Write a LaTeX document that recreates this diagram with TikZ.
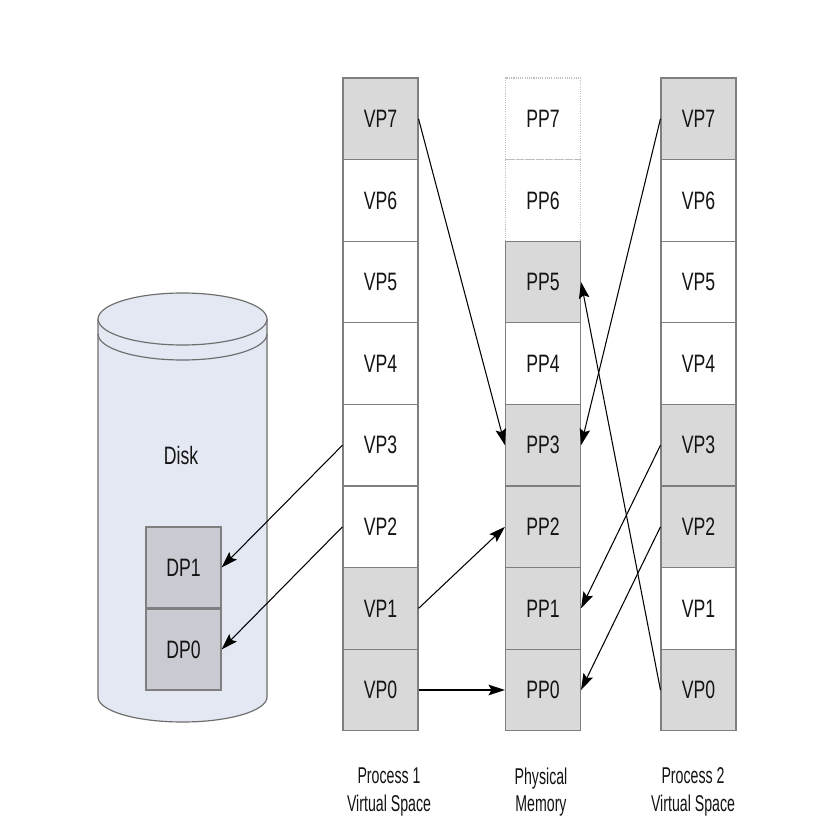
\documentclass[tikz,border=0pt]{standalone}
\usepackage{fontspec}
\setmainfont{Liberation Sans}[FakeStretch=0.7]
\newfontfamily\lblfont{Liberation Sans}[FakeStretch=0.62]
\usetikzlibrary{arrows.meta}
\definecolor{cellgray}{HTML}{D9D9D9}
\definecolor{edgegray}{HTML}{7F7F7F}
\definecolor{dotgray}{HTML}{BFBFBF}
\definecolor{diskfill}{HTML}{E4E8F2}
\definecolor{diskedge}{HTML}{6E6E6E}
\definecolor{dpfill}{HTML}{CACBD2}
\tikzset{
  cell/.style={draw=edgegray, line width=0.9pt, minimum width=2.25cm, minimum height=2.448cm, inner sep=0pt, font=\fontsize{21.5}{24}\selectfont, text=black!92},
  used/.style={cell, fill=cellgray},
  free/.style={cell, fill=white},
  ghost/.style={cell, draw=dotgray, densely dotted, fill=white},
  dpbox/.style={draw=edgegray, line width=0.9pt, fill=dpfill, minimum width=2.25cm, minimum height=2.43cm, inner sep=0pt, font=\fontsize{21.5}{24}\selectfont, text=black!92},
  lbl/.style={align=center, font=\lblfont\fontsize{19.5}{23.5}\selectfont, text=black!92},
  map/.style={-{Stealth[length=14pt, width=9pt, inset=2.5pt]}, line width=0.9pt, black},
}
\begin{document}
\begin{tikzpicture}[x=0.03cm, y=-0.03cm]
\useasboundingbox (0,0) rectangle (835,822);
\fill[white] (0,0) rectangle (835,822);
% Disk
\fill[diskfill] (98,319) -- (98,697) arc[start angle=180, end angle=0, x radius=84.5, y radius=25] -- (267,319) -- cycle;
\draw[diskedge, line width=1pt] (98,319) -- (98,697) arc[start angle=180, end angle=0, x radius=84.5, y radius=25] -- (267,319);
\draw[diskedge, line width=1pt, fill=diskfill] (182.5,319) ellipse[x radius=84.5, y radius=26];
\draw[diskedge, line width=1pt] (98,334) arc[start angle=180, end angle=0, x radius=84.5, y radius=26];
\node[font=\fontsize{21.5}{24}\selectfont, text=black!92] (disk) at (181,455) {Disk};
\node[dpbox] (dp1) at (183.5,567.5) {DP1};
\node[dpbox] (dp0) at (183.5,649.5) {DP0};
% Process 1
\node[used] (a7) at (380.5,118.8) {VP7};
\node[free] (a6) at (380.5,200.4) {VP6};
\node[free] (a5) at (380.5,282.0) {VP5};
\node[free] (a4) at (380.5,363.6) {VP4};
\node[free] (a3) at (380.5,445.2) {VP3};
\node[free] (a2) at (380.5,526.8) {VP2};
\node[used] (a1) at (380.5,608.4) {VP1};
\node[used] (a0) at (380.5,690.0) {VP0};
% Physical memory
\node[ghost] (m7) at (543,118.8) {PP7};
\node[ghost] (m6) at (543,200.4) {PP6};
\node[used] (m5) at (543,282.0) {PP5};
\node[free] (m4) at (543,363.6) {PP4};
\node[used] (m3) at (543,445.2) {PP3};
\node[used] (m2) at (543,526.8) {PP2};
\node[used] (m1) at (543,608.4) {PP1};
\node[used] (m0) at (543,690.0) {PP0};
% Process 2
\node[used] (b7) at (698.5,118.8) {VP7};
\node[free] (b6) at (698.5,200.4) {VP6};
\node[free] (b5) at (698.5,282.0) {VP5};
\node[free] (b4) at (698.5,363.6) {VP4};
\node[used] (b3) at (698.5,445.2) {VP3};
\node[used] (b2) at (698.5,526.8) {VP2};
\node[free] (b1) at (698.5,608.4) {VP1};
\node[used] (b0) at (698.5,690.0) {VP0};
% labels
\node[lbl] (l1) at (389,792) {Process 1\\Virtual Space};
\node[lbl] (l2) at (541,792) {Physical\\Memory};
\node[lbl] (l3) at (693,792) {Process 2\\Virtual Space};
% mappings
\draw[map] (a7.east) -- (m3.west);
\draw[map] (a3.west) -- (dp1.east);
\draw[map] (a2.west) -- (dp0.east);
\draw[map] (a1.east) -- (m2.west);
\draw[map, line width=1.6pt] (a0.east) -- (m0.west);
\draw[map] (b7.west) -- (m3.east);
\draw[map] (b0.west) -- (m5.east);
\draw[map] (b3.west) -- (m1.east);
\draw[map] (b2.west) -- (m0.east);
\end{tikzpicture}
\end{document}
